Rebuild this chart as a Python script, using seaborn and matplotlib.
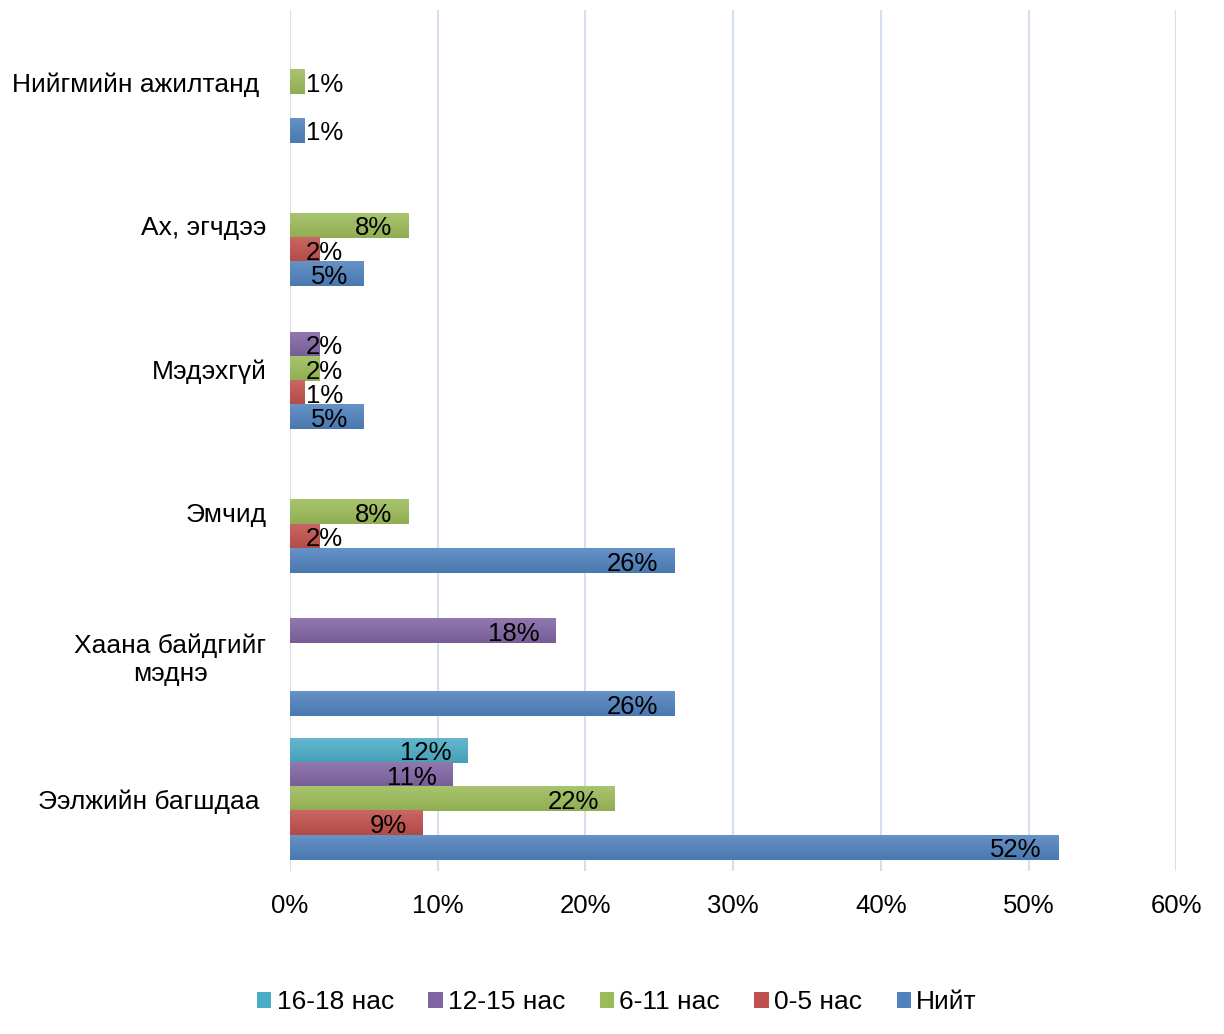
import pandas as pd
import numpy as np
import matplotlib
matplotlib.use('Agg')
import matplotlib.pyplot as plt
import matplotlib.colors as mcolors
import seaborn as sns

# Ангилал (дээрээс доош)
categories = ['Нийгмийн ажилтанд ', 'Ах, эгчдээ', 'Мэдэхгүй', 'Эмчид',
              'Хаана байдгийг\nмэднэ', 'Ээлжийн багшдаа ']
groups = ['16-18 нас', '12-15 нас', '6-11 нас', '0-5 нас', 'Нийт']

nas_16_18 = [np.nan, np.nan, np.nan, np.nan, np.nan, 12]
nas_12_15 = [np.nan, np.nan, 2, np.nan, 18, 11]
nas_6_11 = [1, 8, 2, 8, np.nan, 22]
nas_0_5 = [np.nan, 2, 1, 2, np.nan, 9]
niit = [1, 5, 5, 26, 26, 52]

colors = ['#4BACC6', '#8064A2', '#9BBB59', '#C0504D', '#4F81BD']

rows = []
for g, vals in zip(groups, [nas_16_18, nas_12_15, nas_6_11, nas_0_5, niit]):
    for c, v in zip(categories, vals):
        rows.append({'Ангилал': c, 'Бүлэг': g, 'Хувь': v})
df = pd.DataFrame(rows)

sns.set_style('white')
plt.rcParams['font.family'] = ['Liberation Sans', 'DejaVu Sans']
plt.rcParams['text.color'] = 'black'
plt.rcParams['xtick.color'] = 'black'
plt.rcParams['ytick.color'] = 'black'

fig = plt.figure(figsize=(12.24, 10.34), dpi=100)
ax = fig.add_axes([0.237, 0.158, 0.724, 0.832])

sns.barplot(data=df, y='Ангилал', x='Хувь', hue='Бүлэг', order=categories,
            hue_order=groups, palette=colors, orient='h', width=0.845,
            errorbar=None, ax=ax, saturation=1, linewidth=0)

ylim = ax.get_ylim()


def shade(c, f):
    rgb = np.array(mcolors.to_rgb(c))
    if f > 0:
        return rgb + (1 - rgb) * f
    return rgb * (1 + f)


# Excel маягийн бага зэргийн градиент
for cont, col in zip(ax.containers, colors):
    top = shade(col, 0.13)
    bot = shade(col, -0.07)
    grad = np.linspace(0, 1, 32)[:, None, None]
    img = top[None, None, :] * (1 - grad) + bot[None, None, :] * grad
    for bar in cont:
        w = bar.get_width()
        if np.isnan(w) or w == 0:
            continue
        y0 = bar.get_y()
        h = bar.get_height()
        ax.imshow(img, extent=(0, w, y0 + h, y0), origin='upper',
                  aspect='auto', interpolation='bilinear', zorder=2)

ax.set_ylim(ylim)
ax.set_xlim(0, 60)
ax.set_xticks(range(0, 61, 10))
ax.set_xticklabels([f'{t}%' for t in range(0, 61, 10)], fontsize=18.5)
ax.tick_params(axis='x', pad=17, length=0)
ax.tick_params(axis='y', pad=17, length=0)
for lab in ax.get_yticklabels():
    lab.set_fontsize(19)
    lab.set_multialignment('center')
ax.set_xlabel('')
ax.set_ylabel('')
ax.xaxis.grid(True, color='#D5E0EE', linewidth=1.5)
ax.set_axisbelow(True)
for s in ax.spines.values():
    s.set_visible(False)

# Утгын шошго
for cont in ax.containers:
    for bar in cont:
        v = bar.get_width()
        if np.isnan(v) or v == 0:
            continue
        yc = bar.get_y() + bar.get_height() / 2 + 0.02
        if v < 4.9:
            ax.text(1.08, yc, f'{v:.0f}%', ha='left', va='center', fontsize=18.5, zorder=3)
        else:
            ax.text(v - 1.1, yc, f'{v:.0f}%', ha='right', va='center', fontsize=18.5, zorder=3)

ax.legend(loc='center', bbox_to_anchor=(0.504, 0.031), bbox_transform=fig.transFigure,
          ncol=5, frameon=False, fontsize=19, handlelength=0.55, handleheight=0.55,
          handletextpad=0.2, columnspacing=1.3)

fig.savefig('out.png', dpi=100)
